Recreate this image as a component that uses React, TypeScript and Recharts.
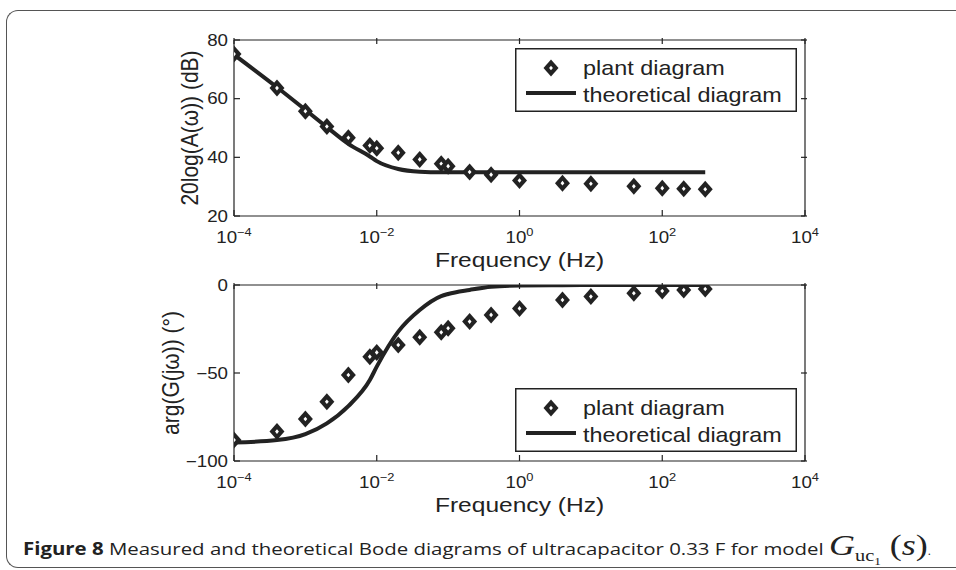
import React from "react";
import { ComposedChart, Line, Scatter, XAxis, YAxis, Legend, Label } from "recharts";

// frequencies (Hz) of the measured points
const freqs = [1e-4, 4e-4, 1e-3, 2e-3, 4e-3, 8e-3, 1e-2, 2e-2, 4e-2, 8e-2, 0.1, 0.2, 0.4, 1, 4, 10, 40, 100, 200, 400];

// magnitude, dB
const plantMag = [75.2, 63.6, 55.7, 50.5, 46.7, 44.0, 43.1, 41.6, 39.3, 37.8, 37.0, 35.0, 34.1, 32.1, 31.2, 31.0, 30.1, 29.5, 29.3, 29.1];
const theoMag = [75.0, 63.9, 56.2, 50.3, 44.6, 40.3, 38.7, 36.0, 35.1, 34.9, 34.9, 34.9, 34.9, 34.9, 34.9, 34.9, 34.9, 34.9, 34.9, 34.9];

// phase, degrees
const plantPhase = [-88.1, -83.3, -76.1, -66.3, -51.1, -40.7, -38.3, -34.1, -29.7, -26.9, -24.6, -20.8, -17.0, -13.3, -8.5, -6.6, -4.7, -3.4, -2.8, -2.3];
const theoPhase = [-89.5, -88.1, -84.7, -78.6, -68.8, -54.0, -46.4, -26.5, -14.2, -6.3, -5.1, -2.8, -1.0, -0.3, -0.1, 0, 0, 0, 0, 0];

const freqTicks = [1e-4, 1e-2, 1, 1e2, 1e4];
const magTicks = [20, 40, 60, 80];
const phaseTicks = [-100, -50, 0];

const INK = "#222";
const FONT = '"Liberation Sans", Arial, sans-serif';
const SX = 1.17; // the figure is stretched sideways

const toRows = (ys: number[]) => freqs.map((f, i) => ({ f, v: ys[i] }));

function expLabel(v: number) {
  const e = Math.round(Math.log10(v));
  return e < 0 ? "\u2212" + -e : String(e);
}

function BottomTick({ x, y, payload }: any) {
  return (
    <g>
      <line x1={x} y1={y} x2={x} y2={y - 6} stroke={INK} strokeWidth={1.2} />
      <text transform={`translate(${x},${y + 27}) scale(${SX},1)`} textAnchor="middle" fontSize={16} fill={INK} fontFamily={FONT}>
        10<tspan dy={-7} fontSize={11}>{expLabel(payload.value)}</tspan>
      </text>
    </g>
  );
}

function TopTick({ x, y }: any) {
  return <line x1={x} y1={y} x2={x} y2={y + 6} stroke={INK} strokeWidth={1.2} />;
}

function LeftTick({ x, y, payload }: any) {
  const label = payload.value < 0 ? "\u2212" + -payload.value : String(payload.value);
  return (
    <g>
      <line x1={x} y1={y} x2={x + 6} y2={y} stroke={INK} strokeWidth={1.2} />
      <text transform={`translate(${x - 6},${y}) scale(${SX},1)`} dy="0.36em" textAnchor="end" fontSize={16} fill={INK} fontFamily={FONT}>
        {label}
      </text>
    </g>
  );
}

function RightTick({ x, y }: any) {
  return <line x1={x} y1={y} x2={x - 6} y2={y} stroke={INK} strokeWidth={1.2} />;
}

function DiamondMark({ cx, cy }: any) {
  if (cx == null || cy == null) return null;
  const w = 7.5;
  const h = 8.5;
  return (
    <g>
      <path d={`M${cx},${cy - h}L${cx + w},${cy}L${cx},${cy + h}L${cx - w},${cy}Z`} fill={INK} />
      <path d={`M${cx},${cy - 2.3}L${cx + 1.9},${cy}L${cx},${cy + 2.3}L${cx - 1.9},${cy}Z`} fill="#fff" />
    </g>
  );
}

function LegendBox() {
  return (
    <svg width={282} height={64} style={{ display: "block" }}>
      <rect x={0.75} y={0.75} width={280.5} height={62.5} fill="#fff" stroke={INK} strokeWidth={1.5} />
      <DiamondMark cx={36} cy={20} />
      <text transform={`translate(68,27) scale(${SX},1)`} fontSize={20} fill={INK} fontFamily={FONT}>
        plant diagram
      </text>
      <line x1={11} x2={61} y1={45} y2={45} stroke={INK} strokeWidth={4} />
      <text transform={`translate(68,54) scale(${SX},1)`} fontSize={20} fill={INK} fontFamily={FONT}>
        theoretical diagram
      </text>
    </svg>
  );
}

function XTitle({ viewBox }: any) {
  const cx = viewBox.x + viewBox.width / 2;
  return (
    <text transform={`translate(${cx},${viewBox.y + 51}) scale(${SX},1)`} textAnchor="middle" fontSize={21} fill={INK} fontFamily={FONT}>
      Frequency (Hz)
    </text>
  );
}

function yTitle(text: string, cx: number) {
  return ({ viewBox }: any) => (
    <text
      transform={`translate(${cx},${viewBox.y + viewBox.height / 2}) scale(${SX},1) rotate(-90)`}
      textAnchor="middle"
      dominantBaseline="central"
      fontSize={21}
      fill={INK}
      fontFamily={FONT}
    >
      {text}
    </text>
  );
}

function BodePanel({
  top,
  height,
  topPad,
  bottomPad,
  plant,
  theo,
  domain,
  yTicks,
  title,
  titleX,
  legendTop,
}: {
  top: number;
  height: number;
  topPad: number;
  bottomPad: number;
  plant: number[];
  theo: number[];
  domain: [number, number];
  yTicks: number[];
  title: string;
  titleX: number;
  legendTop: number;
}) {
  const axisLine = { stroke: INK, strokeWidth: 1.2 };
  return (
    <div style={{ position: "absolute", left: 0, top }}>
      <ComposedChart width={956} height={height} margin={{ top: 0, right: 0, bottom: 0, left: 0 }}>
        <XAxis
          dataKey="f"
          type="number"
          scale="log"
          domain={[1e-4, 1e4]}
          allowDataOverflow
          ticks={freqTicks}
          interval={0}
          height={bottomPad}
          tickSize={0}
          tickMargin={0}
          axisLine={axisLine}
          tickLine={false}
          tick={<BottomTick />}
        >
          <Label content={<XTitle />} />
        </XAxis>
        <XAxis
          xAxisId="t"
          orientation="top"
          dataKey="f"
          type="number"
          scale="log"
          domain={[1e-4, 1e4]}
          allowDataOverflow
          ticks={freqTicks}
          interval={0}
          height={topPad}
          tickSize={0}
          axisLine={axisLine}
          tickLine={false}
          tick={<TopTick />}
        />
        <YAxis
          dataKey="v"
          type="number"
          domain={domain}
          allowDataOverflow
          ticks={yTicks}
          interval={0}
          width={234}
          tickSize={0}
          tickMargin={0}
          axisLine={axisLine}
          tickLine={false}
          tick={<LeftTick />}
        >
          <Label content={yTitle(title, titleX)} />
        </YAxis>
        <YAxis
          yAxisId="r"
          orientation="right"
          type="number"
          domain={domain}
          allowDataOverflow
          ticks={yTicks}
          interval={0}
          width={151}
          tickSize={0}
          axisLine={axisLine}
          tickLine={false}
          tick={<RightTick />}
        />
        <Line
          data={toRows(theo)}
          dataKey="v"
          name="theoretical diagram"
          type="monotone"
          stroke={INK}
          strokeWidth={4}
          dot={false}
          isAnimationActive={false}
        />
        <Scatter data={toRows(plant)} dataKey="v" name="plant diagram" fill={INK} shape={<DiamondMark />} isAnimationActive={false} />
        <Legend
          layout="horizontal"
          verticalAlign="middle"
          align="center"
          content={() => <LegendBox />}
          wrapperStyle={{ left: 515, top: legendTop, width: 282, height: 64 }}
        />
      </ComposedChart>
    </div>
  );
}

export default function App() {
  return (
    <div style={{ position: "absolute", left: 0, top: 0, width: 956, height: 570, background: "#fff", overflow: "hidden" }}>
      <div
        style={{
          position: "absolute",
          left: 6,
          top: 10,
          width: 980,
          height: 556,
          borderLeft: "1.5px solid #555",
          borderTop: "1.5px solid #555",
          borderBottom: "1.5px solid #555",
          borderTopLeftRadius: 12,
          borderBottomLeftRadius: 12,
        }}
      />
      <BodePanel
        top={0}
        height={280}
        topPad={40}
        bottomPad={64}
        plant={plantMag}
        theo={theoMag}
        domain={[20, 80]}
        yTicks={magTicks}
        title="20log(A(ω)) (dB)"
        titleX={189}
        legendTop={48}
      />
      <BodePanel
        top={250}
        height={320}
        topPad={35}
        bottomPad={109}
        plant={plantPhase}
        theo={theoPhase}
        domain={[-100, 0]}
        yTicks={phaseTicks}
        title="arg(G(jω)) (°)"
        titleX={170}
        legendTop={138}
      />
      <div
        style={{
          position: "absolute",
          left: 23,
          top: 528,
          fontFamily: '"Open Sans", sans-serif',
          fontSize: 17,
          color: INK,
          whiteSpace: "nowrap",
          lineHeight: "34px",
          transform: "scaleX(1.2)",
          transformOrigin: "0 0",
        }}
      >
        <b>Figure 8</b> Measured and theoretical Bode diagrams of ultracapacitor 0.33 F for model{" "}
        <span style={{ fontFamily: '"Liberation Serif", serif', fontSize: 30, fontStyle: "italic" }}>G</span>
        <span style={{ fontFamily: '"Liberation Serif", serif', fontSize: 17, position: "relative", top: 6 }}>
          uc<span style={{ fontSize: 11, position: "relative", top: 4 }}>1</span>
        </span>
        <span style={{ fontFamily: '"Liberation Serif", serif', fontSize: 30 }}>
          {" "}(<i>s</i>)
        </span>
        <span style={{ fontSize: 10 }}>.</span>
      </div>
    </div>
  );
}
